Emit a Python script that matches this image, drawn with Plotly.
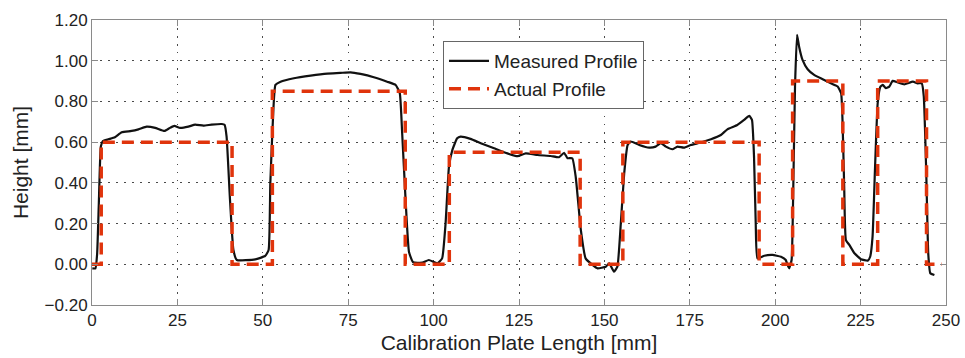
import plotly.graph_objects as go

# Measured profile
measured_x = [0.1, 1.0, 1.5, 2.0, 2.6, 3.2, 4.8, 6.7, 8.7, 11.6, 13.6, 16.0, 18.5, 21.2, 22.8, 24.1, 25.8,
              28.2, 30.2, 32.6, 35.0, 38.0, 38.8, 39.4, 40.4, 41.4, 42.4, 47.8, 50.7, 51.7, 52.2, 53.0,
              53.7, 55.2, 59.1, 64.0, 68.9, 72.7, 75.7, 78.6, 82.5, 86.4, 88.9, 90.1, 90.8, 91.8, 92.8,
              94.0, 96.7, 98.6, 101.1, 102.5, 103.5, 104.5, 105.5, 106.9, 107.9, 110.8, 113.8, 117.7,
              121.6, 124.5, 127.0, 130.4, 134.3, 136.7, 138.2, 139.2, 140.6, 141.6, 143.1, 144.5, 146.5,
              148.0, 150.4, 151.4, 152.8, 153.8, 154.8, 155.8, 156.8, 157.7, 160.2, 163.1, 165.0, 166.5,
              168.0, 169.9, 171.4, 173.3, 175.3, 178.2, 181.2, 184.1, 186.0, 188.9, 190.9, 192.4, 193.2,
              193.8, 194.3, 194.8, 196.8, 199.2, 201.7, 203.1, 203.6, 204.1, 204.8, 205.3, 205.8, 206.4,
              207.0, 208.0, 209.5, 211.4, 213.9, 216.3, 218.3, 219.3, 219.7, 220.2, 220.7, 221.7, 223.2,
              225.1, 227.1, 227.8, 228.5, 229.2, 230.0, 230.8, 231.5, 232.4, 233.4, 234.4, 235.9, 237.8,
              240.3, 241.7, 242.9, 243.5, 244.2, 244.8, 245.4, 246.6]
measured_y = [-0.02, -0.02, 0.05, 0.30, 0.58, 0.605, 0.614, 0.624, 0.649, 0.655, 0.663, 0.676, 0.670, 0.655,
              0.670, 0.680, 0.670, 0.676, 0.686, 0.681, 0.686, 0.689, 0.685, 0.627, 0.316, 0.07, 0.021,
              0.024, 0.041, 0.07, 0.398, 0.725, 0.881, 0.897, 0.914, 0.927, 0.937, 0.940, 0.943, 0.935,
              0.919, 0.897, 0.881, 0.84, 0.644, 0.316, 0.06, 0.010, 0.008, 0.021, 0.005, 0.029, 0.20, 0.48,
              0.562, 0.619, 0.627, 0.616, 0.595, 0.570, 0.545, 0.531, 0.545, 0.537, 0.532, 0.526, 0.548,
              0.521, 0.521, 0.43, 0.169, 0.029, -0.003, -0.02, -0.012, 0.005, -0.036, -0.012, 0.20, 0.447,
              0.586, 0.603, 0.586, 0.573, 0.578, 0.595, 0.578, 0.565, 0.578, 0.573, 0.586, 0.598, 0.614,
              0.635, 0.663, 0.684, 0.709, 0.729, 0.709, 0.529, 0.20, 0.029, 0.042, 0.046, 0.037, 0.021,
              -0.003, -0.02, 0.021, 0.381, 0.873, 1.127, 1.069, 1.004, 0.958, 0.930, 0.909, 0.889, 0.873,
              0.84, 0.709, 0.381, 0.119, 0.095, 0.054, 0.025, 0.018, 0.037, 0.136, 0.463, 0.791, 0.873,
              0.881, 0.865, 0.873, 0.901, 0.893, 0.884, 0.897, 0.889, 0.889, 0.824, 0.463, 0.054, -0.044,
              -0.053]

# Actual profile (step shape)
actual_x = [0, 2.7, 2.7, 41, 41, 52.8, 52.8, 91.7, 91.7, 104.6, 104.6, 142.9, 142.9, 155.4, 155.4,
            195.3, 195.3, 205.1, 205.1, 219.8, 219.8, 230, 230, 244.3, 244.3, 248.8]
actual_y = [0, 0, 0.6, 0.6, 0, 0, 0.85, 0.85, 0, 0, 0.55, 0.55, 0, 0, 0.6, 0.6, 0, 0, 0.9, 0.9,
            0, 0, 0.9, 0.9, 0, 0]

x_ticks = [0, 25, 50, 75, 100, 125, 150, 175, 200, 225, 250]
y_ticks = [-0.2, 0.0, 0.2, 0.4, 0.6, 0.8, 1.0, 1.2]

fig = go.Figure()
fig.add_trace(go.Scatter(x=measured_x, y=measured_y, mode="lines", name="Measured Profile",
                         line=dict(color="#111111", width=2.2, shape="spline", smoothing=0.4)))
fig.add_trace(go.Scatter(x=actual_x, y=actual_y, mode="lines", name="Actual Profile",
                         line=dict(color="#e0340c", width=3.5, dash="12px,7px")))

axis_common = dict(showline=True, linecolor="#8a8a8a", linewidth=1, mirror="ticks",
                   ticks="inside", ticklen=6, tickcolor="#8a8a8a",
                   showgrid=True, gridcolor="#4a4a4a", griddash="1.5px,6.5px", gridwidth=1,
                   zeroline=False, tickfont=dict(size=17, color="#222222"))

fig.update_xaxes(range=[0, 250], tickvals=x_ticks, ticktext=[str(v) for v in x_ticks],
                 title=dict(text="Calibration Plate Length [mm]", font=dict(size=21, color="#222222"),
                            standoff=5), **axis_common)
fig.update_yaxes(range=[-0.2, 1.2], tickvals=y_ticks, tickformat=".2f",
                 title=dict(text="Height [mm]", font=dict(size=21, color="#222222"), standoff=10),
                 **axis_common)

fig.update_layout(
    width=965, height=358,
    margin=dict(l=92, r=19, t=20, b=53, autoexpand=False),
    paper_bgcolor="white", plot_bgcolor="white",
    font=dict(family="Liberation Sans, Arial, sans-serif", color="#222222"),
    showlegend=True,
    legend=dict(x=0.411, y=0.926, xanchor="left", yanchor="top", bgcolor="white",
                bordercolor="#666666", borderwidth=1, font=dict(size=19, color="#222222"),
                tracegroupgap=0, itemwidth=40),
)

fig.write_html("out.html")
